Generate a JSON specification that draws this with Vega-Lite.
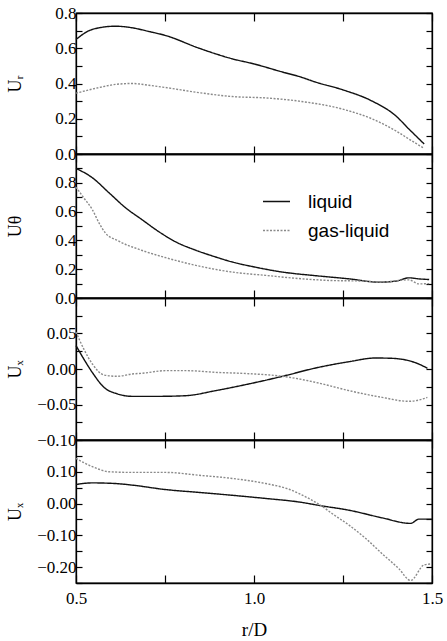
{
  "$schema": "https://vega.github.io/schema/vega-lite/v6.json",
  "padding": {"left": 5, "top": 3, "right": 5, "bottom": 5},
  "spacing": 0,
  "bounds": "flush",
  "background": "white",
  "datasets": {
    "p1": [
      {"r":0.5,"u":0.65,"s":"liquid"},{"r":0.537,"u":0.70,"s":"liquid"},{"r":0.565,"u":0.716,"s":"liquid"},{"r":0.611,"u":0.725,"s":"liquid"},{"r":0.658,"u":0.716,"s":"liquid"},{"r":0.705,"u":0.695,"s":"liquid"},{"r":0.752,"u":0.672,"s":"liquid"},{"r":0.846,"u":0.60,"s":"liquid"},{"r":0.939,"u":0.54,"s":"liquid"},{"r":1.002,"u":0.51,"s":"liquid"},{"r":1.08,"u":0.465,"s":"liquid"},{"r":1.126,"u":0.44,"s":"liquid"},{"r":1.173,"u":0.408,"s":"liquid"},{"r":1.248,"u":0.365,"s":"liquid"},{"r":1.332,"u":0.30,"s":"liquid"},{"r":1.398,"u":0.217,"s":"liquid"},{"r":1.435,"u":0.142,"s":"liquid"},{"r":1.478,"u":0.057,"s":"liquid"},
      {"r":0.5,"u":0.345,"s":"gas-liquid"},{"r":0.565,"u":0.377,"s":"gas-liquid"},{"r":0.611,"u":0.395,"s":"gas-liquid"},{"r":0.658,"u":0.40,"s":"gas-liquid"},{"r":0.705,"u":0.39,"s":"gas-liquid"},{"r":0.752,"u":0.377,"s":"gas-liquid"},{"r":0.846,"u":0.348,"s":"gas-liquid"},{"r":0.939,"u":0.326,"s":"gas-liquid"},{"r":1.033,"u":0.318,"s":"gas-liquid"},{"r":1.126,"u":0.30,"s":"gas-liquid"},{"r":1.248,"u":0.255,"s":"gas-liquid"},{"r":1.332,"u":0.199,"s":"gas-liquid"},{"r":1.398,"u":0.132,"s":"gas-liquid"},{"r":1.435,"u":0.085,"s":"gas-liquid"},{"r":1.478,"u":0.032,"s":"gas-liquid"}
    ],
    "p2": [
      {"r":0.5,"u":0.90,"s":"liquid"},{"r":0.546,"u":0.835,"s":"liquid"},{"r":0.593,"u":0.73,"s":"liquid"},{"r":0.64,"u":0.625,"s":"liquid"},{"r":0.686,"u":0.543,"s":"liquid"},{"r":0.733,"u":0.46,"s":"liquid"},{"r":0.78,"u":0.39,"s":"liquid"},{"r":0.836,"u":0.332,"s":"liquid"},{"r":0.892,"u":0.285,"s":"liquid"},{"r":0.939,"u":0.25,"s":"liquid"},{"r":1.002,"u":0.215,"s":"liquid"},{"r":1.08,"u":0.18,"s":"liquid"},{"r":1.173,"u":0.155,"s":"liquid"},{"r":1.267,"u":0.133,"s":"liquid"},{"r":1.351,"u":0.11,"s":"liquid"},{"r":1.398,"u":0.117,"s":"liquid"},{"r":1.435,"u":0.14,"s":"liquid"},{"r":1.463,"u":0.133,"s":"liquid"},{"r":1.492,"u":0.128,"s":"liquid"},
      {"r":0.5,"u":0.77,"s":"gas-liquid"},{"r":0.522,"u":0.695,"s":"gas-liquid"},{"r":0.546,"u":0.613,"s":"gas-liquid"},{"r":0.565,"u":0.52,"s":"gas-liquid"},{"r":0.583,"u":0.45,"s":"gas-liquid"},{"r":0.616,"u":0.40,"s":"gas-liquid"},{"r":0.686,"u":0.33,"s":"gas-liquid"},{"r":0.752,"u":0.28,"s":"gas-liquid"},{"r":0.836,"u":0.227,"s":"gas-liquid"},{"r":0.939,"u":0.18,"s":"gas-liquid"},{"r":1.033,"u":0.157,"s":"gas-liquid"},{"r":1.126,"u":0.135,"s":"gas-liquid"},{"r":1.211,"u":0.122,"s":"gas-liquid"},{"r":1.314,"u":0.117,"s":"gas-liquid"},{"r":1.351,"u":0.11,"s":"gas-liquid"},{"r":1.435,"u":0.126,"s":"gas-liquid"},{"r":1.463,"u":0.098,"s":"gas-liquid"},{"r":1.492,"u":0.10,"s":"gas-liquid"}
    ],
    "p3": [
      {"r":0.5,"u":0.033,"s":"liquid"},{"r":0.522,"u":0.014,"s":"liquid"},{"r":0.546,"u":-0.005,"s":"liquid"},{"r":0.579,"u":-0.026,"s":"liquid"},{"r":0.616,"u":-0.035,"s":"liquid"},{"r":0.658,"u":-0.0385,"s":"liquid"},{"r":0.733,"u":-0.0385,"s":"liquid"},{"r":0.808,"u":-0.0376,"s":"liquid"},{"r":0.892,"u":-0.0305,"s":"liquid"},{"r":0.986,"u":-0.021,"s":"liquid"},{"r":1.08,"u":-0.0103,"s":"liquid"},{"r":1.173,"u":0.0014,"s":"liquid"},{"r":1.267,"u":0.0103,"s":"liquid"},{"r":1.342,"u":0.0155,"s":"liquid"},{"r":1.389,"u":0.015,"s":"liquid"},{"r":1.435,"u":0.0117,"s":"liquid"},{"r":1.463,"u":0.007,"s":"liquid"},{"r":1.487,"u":0.001,"s":"liquid"},
      {"r":0.5,"u":0.052,"s":"gas-liquid"},{"r":0.522,"u":0.028,"s":"gas-liquid"},{"r":0.546,"u":0.007,"s":"gas-liquid"},{"r":0.579,"u":-0.0085,"s":"gas-liquid"},{"r":0.616,"u":-0.0103,"s":"gas-liquid"},{"r":0.658,"u":-0.007,"s":"gas-liquid"},{"r":0.686,"u":-0.006,"s":"gas-liquid"},{"r":0.752,"u":-0.0023,"s":"gas-liquid"},{"r":0.808,"u":-0.0023,"s":"gas-liquid"},{"r":0.892,"u":-0.0047,"s":"gas-liquid"},{"r":0.986,"u":-0.0066,"s":"gas-liquid"},{"r":1.08,"u":-0.0103,"s":"gas-liquid"},{"r":1.173,"u":-0.0188,"s":"gas-liquid"},{"r":1.267,"u":-0.0305,"s":"gas-liquid"},{"r":1.36,"u":-0.04,"s":"gas-liquid"},{"r":1.435,"u":-0.0455,"s":"gas-liquid"},{"r":1.463,"u":-0.0437,"s":"gas-liquid"},{"r":1.487,"u":-0.04,"s":"gas-liquid"}
    ],
    "p4": [
      {"r":0.5,"u":0.06,"s":"liquid"},{"r":0.546,"u":0.065,"s":"liquid"},{"r":0.611,"u":0.063,"s":"liquid"},{"r":0.658,"u":0.058,"s":"liquid"},{"r":0.752,"u":0.044,"s":"liquid"},{"r":0.846,"u":0.035,"s":"liquid"},{"r":0.939,"u":0.026,"s":"liquid"},{"r":1.033,"u":0.016,"s":"liquid"},{"r":1.126,"u":0.005,"s":"liquid"},{"r":1.189,"u":-0.007,"s":"liquid"},{"r":1.267,"u":-0.021,"s":"liquid"},{"r":1.36,"u":-0.045,"s":"liquid"},{"r":1.44,"u":-0.0625,"s":"liquid"},{"r":1.463,"u":-0.049,"s":"liquid"},{"r":1.5,"u":-0.049,"s":"liquid"},
      {"r":0.5,"u":0.142,"s":"gas-liquid"},{"r":0.546,"u":0.116,"s":"gas-liquid"},{"r":0.593,"u":0.10,"s":"gas-liquid"},{"r":0.658,"u":0.098,"s":"gas-liquid"},{"r":0.752,"u":0.098,"s":"gas-liquid"},{"r":0.846,"u":0.089,"s":"gas-liquid"},{"r":0.939,"u":0.079,"s":"gas-liquid"},{"r":1.033,"u":0.063,"s":"gas-liquid"},{"r":1.098,"u":0.045,"s":"gas-liquid"},{"r":1.154,"u":0.016,"s":"gas-liquid"},{"r":1.189,"u":-0.007,"s":"gas-liquid"},{"r":1.22,"u":-0.032,"s":"gas-liquid"},{"r":1.267,"u":-0.068,"s":"gas-liquid"},{"r":1.314,"u":-0.11,"s":"gas-liquid"},{"r":1.36,"u":-0.158,"s":"gas-liquid"},{"r":1.407,"u":-0.205,"s":"gas-liquid"},{"r":1.44,"u":-0.242,"s":"gas-liquid"},{"r":1.478,"u":-0.193,"s":"gas-liquid"},{"r":1.5,"u":-0.19,"s":"gas-liquid"}
    ]
  },
  "resolve": {"legend": {"color": "independent", "strokeDash": "independent"}},
  "vconcat": [
    {
      "width": 356, "height": 141,
      "data": {"name": "p1"},
      "layer": [
        {"mark": {"type": "line", "interpolate": "monotone", "strokeWidth": 1.4},
         "encoding": {
           "x": {"field": "r", "type": "quantitative", "scale": {"domain": [0.5, 1.5], "nice": false, "zero": false}, "axis": {"orient": "bottom", "values": [0.5, 0.75, 1, 1.25, 1.5], "labels": false, "tickSize": -8, "title": null}},
           "y": {"field": "u", "type": "quantitative", "scale": {"domain": [0, 0.8], "nice": false}, "axis": {"orient": "left", "values": [0, 0.1, 0.2, 0.3, 0.4, 0.5, 0.6, 0.7, 0.8], "labelExpr": "round(datum.value*10) % 2 == 0 ? format(datum.value, '.1f') : ''", "title": "Uᵣ", "titleX": -52}},
           "color": {"field": "s", "type": "nominal", "scale": {"domain": ["liquid", "gas-liquid"], "range": ["#111111", "#8a8a8a"]}, "legend": null},
           "strokeDash": {"field": "s", "type": "nominal", "scale": {"domain": ["liquid", "gas-liquid"], "range": [[1, 0], [2, 1.5]]}, "legend": null}
         }},
        {"mark": {"type": "line", "opacity": 0},
         "encoding": {
           "x": {"field": "r", "type": "quantitative", "axis": {"orient": "top", "values": [0.5, 0.75, 1, 1.25, 1.5], "labels": false, "tickSize": -8, "title": null}},
           "y": {"field": "u", "type": "quantitative", "axis": {"orient": "right", "values": [0, 0.1, 0.2, 0.3, 0.4, 0.5, 0.6, 0.7, 0.8], "labels": false, "title": null}}
         }}
      ],
      "resolve": {"axis": {"x": "independent", "y": "independent"}}
    },
    {
      "width": 356, "height": 144,
      "data": {"name": "p2"},
      "layer": [
        {"mark": {"type": "line", "interpolate": "monotone", "strokeWidth": 1.4},
         "encoding": {
           "x": {"field": "r", "type": "quantitative", "scale": {"domain": [0.5, 1.5], "nice": false, "zero": false}, "axis": {"orient": "bottom", "values": [0.5, 0.75, 1, 1.25, 1.5], "labels": false, "tickSize": -8, "title": null}},
           "y": {"field": "u", "type": "quantitative", "scale": {"domain": [0, 1.0], "nice": false}, "axis": {"orient": "left", "values": [0, 0.1, 0.2, 0.3, 0.4, 0.5, 0.6, 0.7, 0.8, 0.9], "labelExpr": "round(datum.value*10) % 2 == 0 ? format(datum.value, '.1f') : ''", "title": "Uθ", "titleX": -52}},
           "color": {"field": "s", "type": "nominal", "scale": {"domain": ["liquid", "gas-liquid"], "range": ["#111111", "#8a8a8a"]}, "legend": {"orient": "none", "legendX": 186, "legendY": 33, "title": null}},
           "strokeDash": {"field": "s", "type": "nominal", "scale": {"domain": ["liquid", "gas-liquid"], "range": [[1, 0], [2, 1.5]]}, "legend": {"orient": "none", "legendX": 186, "legendY": 33, "title": null}}
         }},
        {"mark": {"type": "line", "opacity": 0},
         "encoding": {
           "x": {"field": "r", "type": "quantitative", "axis": {"orient": "top", "values": [0.5, 0.75, 1, 1.25, 1.5], "labels": false, "tickSize": -8, "title": null}},
           "y": {"field": "u", "type": "quantitative", "axis": {"orient": "right", "values": [0, 0.1, 0.2, 0.3, 0.4, 0.5, 0.6, 0.7, 0.8, 0.9], "labels": false, "title": null}}
         }}
      ],
      "resolve": {"axis": {"x": "independent", "y": "independent"}}
    },
    {
      "width": 356, "height": 142,
      "data": {"name": "p3"},
      "layer": [
        {"mark": {"type": "line", "interpolate": "monotone", "strokeWidth": 1.4},
         "encoding": {
           "x": {"field": "r", "type": "quantitative", "scale": {"domain": [0.5, 1.5], "nice": false, "zero": false}, "axis": {"orient": "bottom", "values": [0.5, 0.75, 1, 1.25, 1.5], "labels": false, "tickSize": -8, "title": null}},
           "y": {"field": "u", "type": "quantitative", "scale": {"domain": [-0.1, 0.1], "nice": false, "zero": false}, "axis": {"orient": "left", "values": [-0.1, -0.075, -0.05, -0.025, 0, 0.025, 0.05, 0.075], "labelExpr": "round(datum.value*40) % 2 == 0 ? format(datum.value, '.2f') : ''", "title": "Uₓ", "titleX": -52}},
           "color": {"field": "s", "type": "nominal", "scale": {"domain": ["liquid", "gas-liquid"], "range": ["#111111", "#8a8a8a"]}, "legend": null},
           "strokeDash": {"field": "s", "type": "nominal", "scale": {"domain": ["liquid", "gas-liquid"], "range": [[1, 0], [2, 1.5]]}, "legend": null}
         }},
        {"mark": {"type": "line", "opacity": 0},
         "encoding": {
           "x": {"field": "r", "type": "quantitative", "axis": {"orient": "top", "values": [0.5, 0.75, 1, 1.25, 1.5], "labels": false, "tickSize": -8, "title": null}},
           "y": {"field": "u", "type": "quantitative", "axis": {"orient": "right", "values": [-0.1, -0.075, -0.05, -0.025, 0, 0.025, 0.05, 0.075], "labels": false, "title": null}}
         }}
      ],
      "resolve": {"axis": {"x": "independent", "y": "independent"}}
    },
    {
      "width": 356, "height": 143,
      "data": {"name": "p4"},
      "layer": [
        {"mark": {"type": "line", "interpolate": "monotone", "strokeWidth": 1.4},
         "encoding": {
           "x": {"field": "r", "type": "quantitative", "scale": {"domain": [0.5, 1.5], "nice": false, "zero": false}, "axis": {"orient": "bottom", "values": [0.5, 0.75, 1, 1.25, 1.5], "labelExpr": "datum.value == 0.75 || datum.value == 1.25 ? '' : format(datum.value, '.1f')", "labelFlush": false, "labelPadding": 15, "tickSize": -8, "title": "r/D", "titlePadding": 14, "titleFontSize": 19}},
           "y": {"field": "u", "type": "quantitative", "scale": {"domain": [-0.25, 0.2], "nice": false, "zero": false}, "axis": {"orient": "left", "values": [-0.25, -0.2, -0.15, -0.1, -0.05, 0, 0.05, 0.1, 0.15], "labelExpr": "round(datum.value*20) % 2 == 0 ? format(datum.value, '.2f') : ''", "title": "Uₓ", "titleX": -52}},
           "color": {"field": "s", "type": "nominal", "scale": {"domain": ["liquid", "gas-liquid"], "range": ["#111111", "#8a8a8a"]}, "legend": null},
           "strokeDash": {"field": "s", "type": "nominal", "scale": {"domain": ["liquid", "gas-liquid"], "range": [[1, 0], [2, 1.5]]}, "legend": null}
         }},
        {"mark": {"type": "line", "opacity": 0},
         "encoding": {
           "x": {"field": "r", "type": "quantitative", "axis": {"orient": "top", "values": [0.5, 0.75, 1, 1.25, 1.5], "labels": false, "tickSize": -8, "title": null}},
           "y": {"field": "u", "type": "quantitative", "axis": {"orient": "right", "values": [-0.25, -0.2, -0.15, -0.1, -0.05, 0, 0.05, 0.1, 0.15], "labels": false, "title": null}}
         }}
      ],
      "resolve": {"axis": {"x": "independent", "y": "independent"}}
    }
  ],
  "config": {
    "view": {"stroke": "#000", "strokeWidth": 1.3},
    "axis": {"grid": false, "domainColor": "#000", "domainWidth": 1.3, "tickColor": "#000", "tickWidth": 1.2, "tickSize": -6, "labelFont": "Liberation Serif", "labelFontSize": 17, "labelColor": "#000", "labelPadding": 6, "titleFont": "Liberation Serif", "titleFontSize": 18, "titleFontWeight": "normal", "titleColor": "#000"},
    "legend": {"labelFont": "Liberation Sans", "labelFontSize": 19, "labelColor": "#000", "symbolType": "stroke", "symbolSize": 729, "symbolStrokeWidth": 1.4, "labelOffset": 17, "rowPadding": 4, "padding": 0}
  }
}
